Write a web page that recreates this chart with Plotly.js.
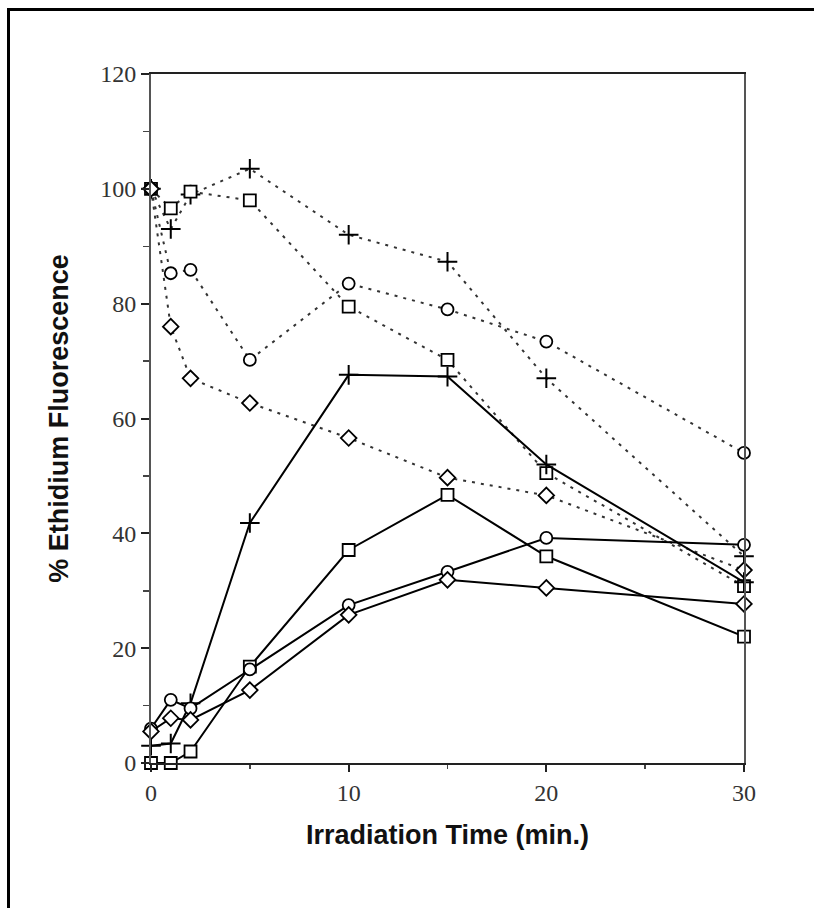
<!DOCTYPE html>
<html>
<head>
<meta charset="utf-8">
<script src="https://cdn.plot.ly/plotly-3.0.1.min.js"></script>
<style>
  html, body { margin: 0; padding: 0; background: #fff; }
  #chart { width: 814px; height: 908px; position: relative; }
  #frame { position: absolute; left: 7px; top: 8px; width: 820px; height: 920px;
           border-top: 3px solid #000; border-left: 3px solid #000; pointer-events: none; }
</style>
</head>
<body>
<div id="chart"></div>
<div id="frame"></div>
<script>
// Irradiation time (min.)
const time = [0, 1, 2, 5, 10, 15, 20, 30];

// Dotted series (decreasing from 100 %)
const dotPlus    = [100, 93, 99, 103.5, 92, 87.3, 67, 36];
const dotSquare  = [100, 96.6, 99.5, 98, 79.5, 70.2, 50.5, 30.8];
const dotCircle  = [100, 85.3, 85.9, 70.2, 83.5, 79, 73.4, 54];
const dotDiamond = [100, 76, 67, 62.7, 56.6, 49.7, 46.6, 33.6];

// Solid series (increasing from ~0 %)
const solidPlus    = [3, 3.4, 10.4, 41.8, 67.6, 67.3, 52, 31.5];
const solidSquare  = [0, 0, 2, 16.8, 37.1, 46.7, 36, 22];
const solidCircle  = [6, 11, 9.5, 16.3, 27.5, 33.3, 39.2, 38];
const solidDiamond = [5.5, 7.8, 7.5, 12.7, 25.8, 31.9, 30.5, 27.7];

const xTickVals = [0, 10, 20, 30];
const yTickVals = [0, 20, 40, 60, 80, 100, 120];

const xTitle = 'Irradiation Time (min.)';
const yTitle = '% Ethidium Fluorescence';

function mk(y, symbol, dotted) {
  const isCross = symbol === 'cross-thin';
  return {
    x: time, y: y, type: 'scatter', mode: 'lines+markers',
    line: dotted ? {color: '#333', width: 2, dash: '3px,6px'} : {color: '#000', width: 2},
    marker: {
      symbol: symbol, size: isCross ? 14 : 12,
      color: isCross ? '#000' : '#fff',
      line: {color: '#000', width: isCross ? 2 : 1.8}
    },
    showlegend: false, cliponaxis: false
  };
}

const traces = [
  mk(dotPlus, 'cross-thin', true),
  mk(dotSquare, 'square', true),
  mk(dotCircle, 'circle', true),
  mk(dotDiamond, 'diamond', true),
  mk(solidPlus, 'cross-thin', false),
  mk(solidSquare, 'square', false),
  mk(solidCircle, 'circle', false),
  mk(solidDiamond, 'diamond', false)
];

const layout = {
  width: 814, height: 908,
  margin: {l: 151, r: 70, t: 74, b: 145},
  paper_bgcolor: '#fff', plot_bgcolor: '#fff',
  showlegend: false,
  xaxis: {
    range: [0, 30], tickvals: xTickVals, ticktext: xTickVals.map(String),
    ticks: 'outside', ticklen: 7, tickwidth: 2, tickcolor: '#222',
    minor: {tickvals: [5, 15, 25], ticks: 'outside', ticklen: 4, tickwidth: 1.5, tickcolor: '#444'},
    showline: true, linecolor: '#222', linewidth: 2, mirror: true,
    showgrid: false, zeroline: false,
    tickfont: {family: 'Liberation Serif', size: 24, color: '#333'},
    title: {text: xTitle, standoff: 20, font: {family: 'Liberation Sans', size: 27, color: '#111', weight: 'bold'}}
  },
  yaxis: {
    range: [0, 120], tickvals: yTickVals, ticktext: yTickVals.map(String),
    ticks: 'outside', ticklen: 8, tickwidth: 2, tickcolor: '#222',
    minor: {tickvals: [10, 30, 50, 70, 90, 110], ticks: 'outside', ticklen: 6, tickwidth: 1.5, tickcolor: '#444'},
    showline: true, linecolor: '#555', linewidth: 2, mirror: true,
    showgrid: false, zeroline: false,
    tickfont: {family: 'Liberation Serif', size: 24, color: '#333'},
    title: {text: yTitle, standoff: 24, font: {family: 'Liberation Sans', size: 27, color: '#111', weight: 'bold'}}
  }
};

Plotly.newPlot('chart', traces, layout, {displayModeBar: false, staticPlot: true});
</script>
</body>
</html>
